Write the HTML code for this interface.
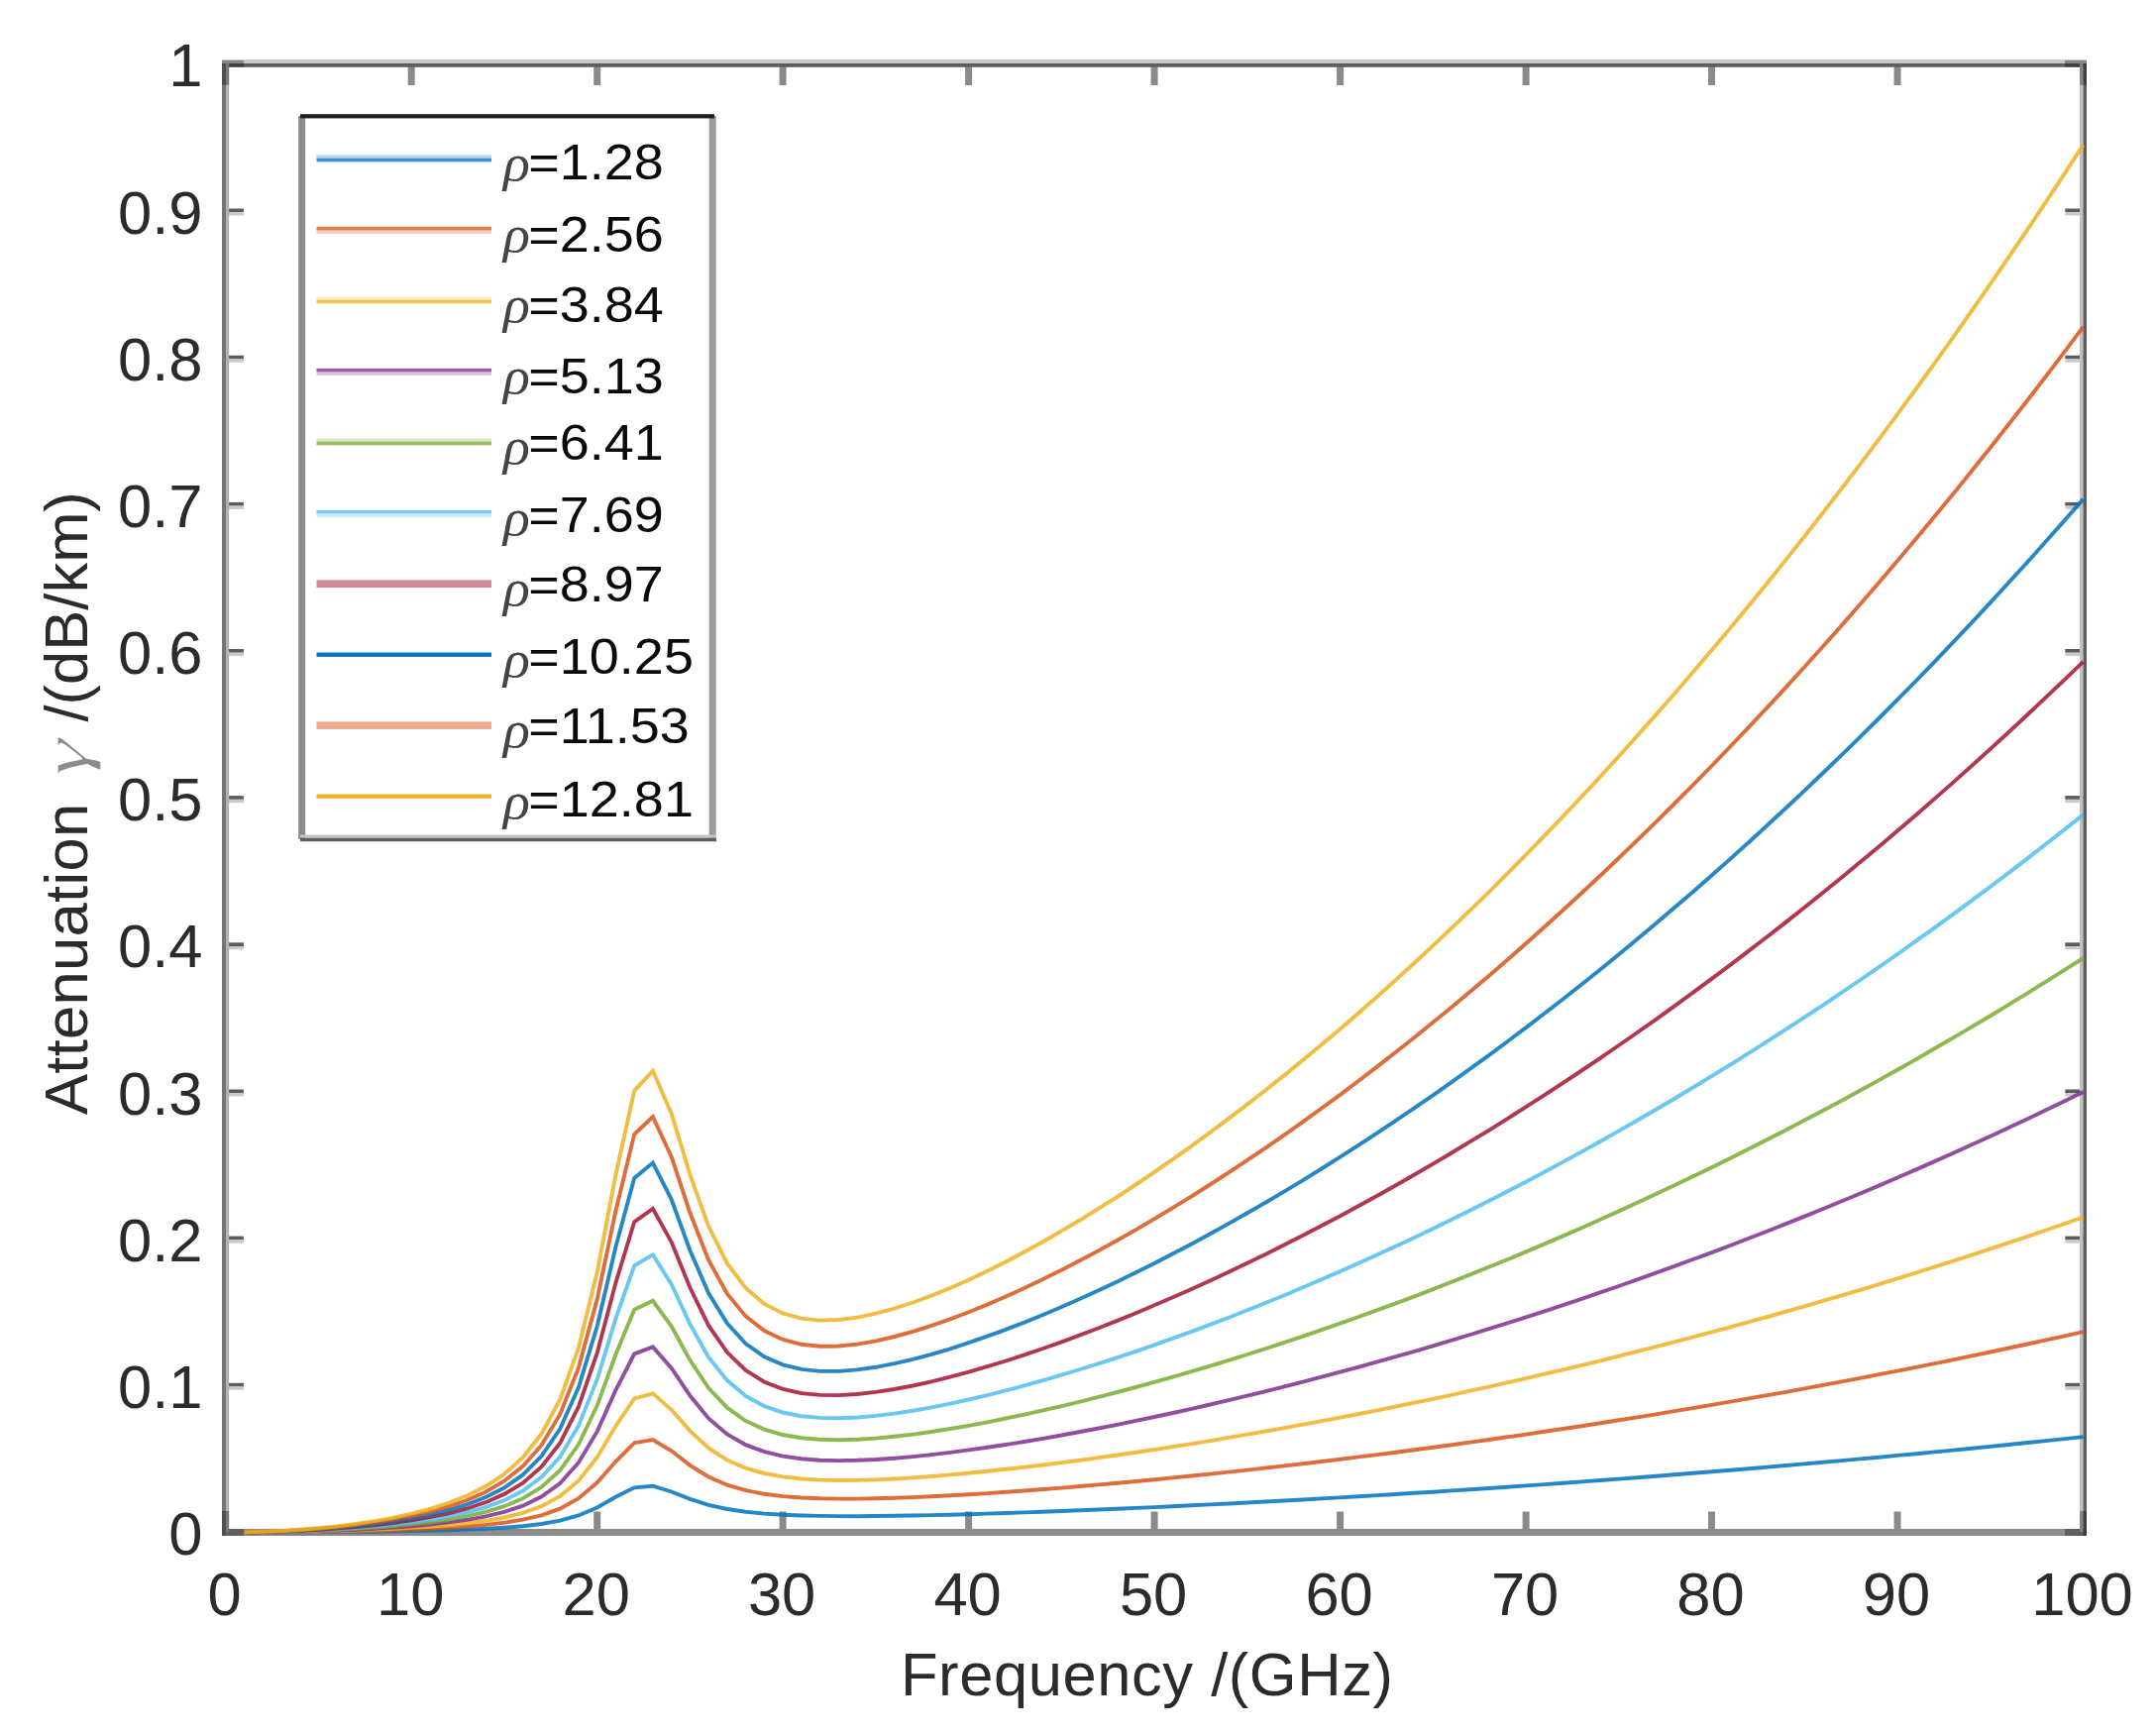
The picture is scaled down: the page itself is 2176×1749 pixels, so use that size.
<!DOCTYPE html>
<html lang="en"><head><meta charset="utf-8"><title>Attenuation vs Frequency</title>
<style>html,body{margin:0;padding:0;background:#fff;}body{width:2176px;height:1749px;overflow:hidden;}svg{display:block;}text{font-family:"Liberation Sans",sans-serif;}.tk{font-size:61.5px;fill:#2b2b2b;}.lb{font-size:61.5px;fill:#2b2b2b;}.lg{font-size:54px;fill:#0a0a0a;}.gr{font-family:"Liberation Serif","DejaVu Serif",serif;font-style:italic;}</style></head><body>
<svg width="2176" height="1749" viewBox="0 0 2176 1749">
<rect x="0" y="0" width="2176" height="1749" fill="#ffffff"/>
<g fill="#8a8a8a">
<rect x="411.7" y="65.0" width="7" height="21.0"/>
<rect x="599.2" y="1525.5" width="7" height="21.0"/>
<rect x="599.2" y="65.0" width="7" height="21.0"/>
<rect x="786.6" y="1525.5" width="7" height="21.0"/>
<rect x="786.6" y="65.0" width="7" height="21.0"/>
<rect x="974.1" y="1525.5" width="7" height="21.0"/>
<rect x="974.1" y="65.0" width="7" height="21.0"/>
<rect x="1161.6" y="1525.5" width="7" height="21.0"/>
<rect x="1161.6" y="65.0" width="7" height="21.0"/>
<rect x="1349.1" y="1525.5" width="7" height="21.0"/>
<rect x="1349.1" y="65.0" width="7" height="21.0"/>
<rect x="1536.6" y="1525.5" width="7" height="21.0"/>
<rect x="1536.6" y="65.0" width="7" height="21.0"/>
<rect x="1724.0" y="1525.5" width="7" height="21.0"/>
<rect x="1724.0" y="65.0" width="7" height="21.0"/>
<rect x="1911.5" y="1525.5" width="7" height="21.0"/>
<rect x="1911.5" y="65.0" width="7" height="21.0"/>
<rect x="227.7" y="1395.8" width="18.2" height="3.7" fill="#5c5c5c"/>
<rect x="227.7" y="1399.4" width="18.2" height="3.3" fill="#cacaca"/>
<rect x="2084.3" y="1395.8" width="18.2" height="3.7" fill="#5c5c5c"/>
<rect x="2084.3" y="1399.4" width="18.2" height="3.3" fill="#cacaca"/>
<rect x="227.7" y="1247.6" width="18.2" height="3.7" fill="#5c5c5c"/>
<rect x="227.7" y="1251.3" width="18.2" height="3.3" fill="#cacaca"/>
<rect x="2084.3" y="1247.6" width="18.2" height="3.7" fill="#5c5c5c"/>
<rect x="2084.3" y="1251.3" width="18.2" height="3.3" fill="#cacaca"/>
<rect x="227.7" y="1099.5" width="18.2" height="3.7" fill="#5c5c5c"/>
<rect x="227.7" y="1103.1" width="18.2" height="3.3" fill="#cacaca"/>
<rect x="2084.3" y="1099.5" width="18.2" height="3.7" fill="#5c5c5c"/>
<rect x="2084.3" y="1103.1" width="18.2" height="3.3" fill="#cacaca"/>
<rect x="227.7" y="951.3" width="18.2" height="3.7" fill="#5c5c5c"/>
<rect x="227.7" y="955.0" width="18.2" height="3.3" fill="#cacaca"/>
<rect x="2084.3" y="951.3" width="18.2" height="3.7" fill="#5c5c5c"/>
<rect x="2084.3" y="955.0" width="18.2" height="3.3" fill="#cacaca"/>
<rect x="227.7" y="803.1" width="18.2" height="3.7" fill="#5c5c5c"/>
<rect x="227.7" y="806.9" width="18.2" height="3.3" fill="#cacaca"/>
<rect x="2084.3" y="803.1" width="18.2" height="3.7" fill="#5c5c5c"/>
<rect x="2084.3" y="806.9" width="18.2" height="3.3" fill="#cacaca"/>
<rect x="227.7" y="655.0" width="18.2" height="3.7" fill="#5c5c5c"/>
<rect x="227.7" y="658.7" width="18.2" height="3.3" fill="#cacaca"/>
<rect x="2084.3" y="655.0" width="18.2" height="3.7" fill="#5c5c5c"/>
<rect x="2084.3" y="658.7" width="18.2" height="3.3" fill="#cacaca"/>
<rect x="227.7" y="506.9" width="18.2" height="3.7" fill="#5c5c5c"/>
<rect x="227.7" y="510.6" width="18.2" height="3.3" fill="#cacaca"/>
<rect x="2084.3" y="506.9" width="18.2" height="3.7" fill="#5c5c5c"/>
<rect x="2084.3" y="510.6" width="18.2" height="3.3" fill="#cacaca"/>
<rect x="227.7" y="358.7" width="18.2" height="3.7" fill="#5c5c5c"/>
<rect x="227.7" y="362.4" width="18.2" height="3.3" fill="#cacaca"/>
<rect x="2084.3" y="358.7" width="18.2" height="3.7" fill="#5c5c5c"/>
<rect x="2084.3" y="362.4" width="18.2" height="3.3" fill="#cacaca"/>
<rect x="227.7" y="210.5" width="18.2" height="3.7" fill="#5c5c5c"/>
<rect x="227.7" y="214.2" width="18.2" height="3.3" fill="#cacaca"/>
<rect x="2084.3" y="210.5" width="18.2" height="3.7" fill="#5c5c5c"/>
<rect x="2084.3" y="214.2" width="18.2" height="3.3" fill="#cacaca"/>
</g>
<g>
<rect x="224" y="60" width="1882" height="4" fill="#c6c6c6"/>
<rect x="224" y="64" width="1882" height="3.8" fill="#5e5e5e"/>
<rect x="224" y="1543" width="1882" height="7" fill="#8c8c8c"/>
<rect x="224" y="64" width="4" height="1486" fill="#757575"/>
<rect x="228" y="64" width="3.2" height="1482" fill="#b2b2b2"/>
<rect x="2099" y="64" width="3.5" height="1482" fill="#c0c0c0"/>
<rect x="2102.5" y="64" width="3.5" height="1486" fill="#5e5e5e"/>
<g fill="#000" fill-opacity="0.32">
<rect x="224" y="61" width="22" height="6.8"/><rect x="224" y="67.8" width="7.2" height="18"/>
<rect x="2084" y="61" width="22" height="6.8"/><rect x="2099" y="67.8" width="7" height="18"/>
<rect x="224" y="1543" width="22" height="7"/><rect x="224" y="1525" width="7.2" height="18"/>
<rect x="2084" y="1543" width="22" height="7"/><rect x="2099" y="1525" width="7" height="18"/>
</g>
</g>
<g fill="none" stroke-width="3.9" stroke-linejoin="miter" stroke-linecap="butt" stroke-opacity="0.85">
<polyline stroke="#0072BD" points="246.4,1546.5 265.2,1546.5 283.9,1546.4 302.7,1546.3 321.4,1546.2 340.2,1546.1 358.9,1545.9 377.7,1545.7 396.4,1545.4 415.2,1545.1 433.9,1544.7 452.7,1544.2 471.4,1543.6 490.2,1542.8 508.9,1541.7 527.7,1540.2 546.4,1538.0 565.2,1534.7 583.9,1529.5 602.7,1521.5 621.4,1510.8 640.2,1501.3 658.9,1499.7 677.7,1505.5 696.4,1512.9 715.1,1518.9 733.9,1523.0 752.6,1525.8 771.4,1527.6 790.1,1528.8 808.9,1529.5 827.6,1529.9 846.4,1530.1 865.1,1530.2 883.9,1530.0 902.6,1529.8 921.4,1529.5 940.1,1529.1 958.9,1528.7 977.6,1528.2 996.4,1527.6 1015.1,1527.0 1033.9,1526.4 1052.6,1525.7 1071.4,1525.0 1090.1,1524.3 1108.9,1523.5 1127.6,1522.7 1146.4,1521.9 1165.1,1521.1 1183.8,1520.2 1202.6,1519.3 1221.3,1518.4 1240.1,1517.5 1258.8,1516.5 1277.6,1515.5 1296.3,1514.5 1315.1,1513.5 1333.8,1512.4 1352.6,1511.4 1371.3,1510.3 1390.1,1509.1 1408.8,1508.0 1427.6,1506.8 1446.3,1505.7 1465.1,1504.4 1483.8,1503.2 1502.6,1502.0 1521.3,1500.7 1540.1,1499.4 1558.8,1498.1 1577.6,1496.8 1596.3,1495.4 1615.1,1494.0 1633.8,1492.6 1652.5,1491.2 1671.3,1489.8 1690.0,1488.3 1708.8,1486.8 1727.5,1485.3 1746.3,1483.8 1765.0,1482.2 1783.8,1480.6 1802.5,1479.0 1821.3,1477.4 1840.0,1475.8 1858.8,1474.1 1877.5,1472.4 1896.3,1470.7 1915.0,1468.9 1933.8,1467.2 1952.5,1465.4 1971.3,1463.6 1990.0,1461.7 2008.8,1459.9 2027.5,1458.0 2046.3,1456.0 2065.0,1454.1 2083.8,1452.1 2102.5,1450.1"/>
<polyline stroke="#D95319" points="246.4,1546.5 265.2,1546.4 283.9,1546.3 302.7,1546.1 321.4,1545.9 340.2,1545.6 358.9,1545.2 377.7,1544.8 396.4,1544.2 415.2,1543.6 433.9,1542.8 452.7,1541.8 471.4,1540.5 490.2,1538.9 508.9,1536.7 527.7,1533.7 546.4,1529.3 565.2,1522.6 583.9,1512.2 602.7,1496.3 621.4,1475.0 640.2,1456.2 658.9,1453.0 677.7,1464.3 696.4,1478.8 715.1,1490.5 733.9,1498.7 752.6,1504.2 771.4,1507.8 790.1,1510.1 808.9,1511.5 827.6,1512.3 846.4,1512.6 865.1,1512.6 883.9,1512.3 902.6,1511.8 921.4,1511.1 940.1,1510.3 958.9,1509.3 977.6,1508.2 996.4,1507.1 1015.1,1505.8 1033.9,1504.5 1052.6,1503.0 1071.4,1501.6 1090.1,1500.0 1108.9,1498.4 1127.6,1496.7 1146.4,1495.0 1165.1,1493.2 1183.8,1491.4 1202.6,1489.5 1221.3,1487.6 1240.1,1485.6 1258.8,1483.6 1277.6,1481.5 1296.3,1479.4 1315.1,1477.2 1333.8,1475.0 1352.6,1472.7 1371.3,1470.4 1390.1,1468.1 1408.8,1465.7 1427.6,1463.2 1446.3,1460.7 1465.1,1458.2 1483.8,1455.6 1502.6,1453.0 1521.3,1450.3 1540.1,1447.6 1558.8,1444.8 1577.6,1442.0 1596.3,1439.2 1615.1,1436.3 1633.8,1433.3 1652.5,1430.4 1671.3,1427.3 1690.0,1424.2 1708.8,1421.1 1727.5,1417.9 1746.3,1414.7 1765.0,1411.4 1783.8,1408.1 1802.5,1404.8 1821.3,1401.3 1840.0,1397.9 1858.8,1394.4 1877.5,1390.8 1896.3,1387.2 1915.0,1383.6 1933.8,1379.8 1952.5,1376.1 1971.3,1372.3 1990.0,1368.4 2008.8,1364.5 2027.5,1360.5 2046.3,1356.5 2065.0,1352.4 2083.8,1348.3 2102.5,1344.1"/>
<polyline stroke="#EDB120" points="246.4,1546.5 265.2,1546.3 283.9,1546.1 302.7,1545.9 321.4,1545.5 340.2,1545.0 358.9,1544.5 377.7,1543.8 396.4,1543.0 415.2,1541.9 433.9,1540.7 452.7,1539.2 471.4,1537.3 490.2,1534.8 508.9,1531.5 527.7,1526.8 546.4,1520.1 565.2,1510.1 583.9,1494.4 602.7,1470.7 621.4,1439.2 640.2,1411.4 658.9,1406.3 677.7,1422.8 696.4,1444.1 715.1,1461.4 733.9,1473.6 752.6,1481.7 771.4,1487.0 790.1,1490.4 808.9,1492.5 827.6,1493.6 846.4,1494.0 865.1,1493.9 883.9,1493.4 902.6,1492.5 921.4,1491.4 940.1,1490.0 958.9,1488.4 977.6,1486.7 996.4,1484.8 1015.1,1482.8 1033.9,1480.7 1052.6,1478.5 1071.4,1476.1 1090.1,1473.7 1108.9,1471.1 1127.6,1468.5 1146.4,1465.8 1165.1,1463.0 1183.8,1460.1 1202.6,1457.1 1221.3,1454.1 1240.1,1450.9 1258.8,1447.7 1277.6,1444.5 1296.3,1441.1 1315.1,1437.7 1333.8,1434.2 1352.6,1430.6 1371.3,1427.0 1390.1,1423.3 1408.8,1419.5 1427.6,1415.7 1446.3,1411.8 1465.1,1407.8 1483.8,1403.7 1502.6,1399.6 1521.3,1395.4 1540.1,1391.1 1558.8,1386.7 1577.6,1382.3 1596.3,1377.8 1615.1,1373.3 1633.8,1368.6 1652.5,1363.9 1671.3,1359.2 1690.0,1354.3 1708.8,1349.4 1727.5,1344.4 1746.3,1339.3 1765.0,1334.2 1783.8,1329.0 1802.5,1323.7 1821.3,1318.3 1840.0,1312.9 1858.8,1307.4 1877.5,1301.8 1896.3,1296.1 1915.0,1290.4 1933.8,1284.5 1952.5,1278.6 1971.3,1272.6 1990.0,1266.6 2008.8,1260.4 2027.5,1254.2 2046.3,1247.9 2065.0,1241.5 2083.8,1235.0 2102.5,1228.4"/>
<polyline stroke="#7E2F8E" points="246.4,1546.4 265.2,1546.3 283.9,1546.0 302.7,1545.6 321.4,1545.1 340.2,1544.5 358.9,1543.7 377.7,1542.7 396.4,1541.6 415.2,1540.2 433.9,1538.5 452.7,1536.4 471.4,1533.8 490.2,1530.4 508.9,1525.9 527.7,1519.7 546.4,1510.6 565.2,1497.1 583.9,1476.2 602.7,1444.7 621.4,1403.0 640.2,1366.3 658.9,1359.4 677.7,1380.6 696.4,1408.6 715.1,1431.4 733.9,1447.4 752.6,1458.2 771.4,1465.2 790.1,1469.6 808.9,1472.3 827.6,1473.7 846.4,1474.1 865.1,1473.8 883.9,1473.0 902.6,1471.7 921.4,1470.1 940.1,1468.1 958.9,1465.9 977.6,1463.4 996.4,1460.8 1015.1,1458.0 1033.9,1455.0 1052.6,1451.8 1071.4,1448.5 1090.1,1445.0 1108.9,1441.5 1127.6,1437.8 1146.4,1433.9 1165.1,1430.0 1183.8,1426.0 1202.6,1421.8 1221.3,1417.5 1240.1,1413.2 1258.8,1408.7 1277.6,1404.1 1296.3,1399.4 1315.1,1394.6 1333.8,1389.7 1352.6,1384.7 1371.3,1379.6 1390.1,1374.4 1408.8,1369.1 1427.6,1363.8 1446.3,1358.3 1465.1,1352.7 1483.8,1347.0 1502.6,1341.2 1521.3,1335.3 1540.1,1329.4 1558.8,1323.3 1577.6,1317.1 1596.3,1310.8 1615.1,1304.4 1633.8,1298.0 1652.5,1291.4 1671.3,1284.7 1690.0,1277.9 1708.8,1271.0 1727.5,1264.1 1746.3,1257.0 1765.0,1249.8 1783.8,1242.5 1802.5,1235.1 1821.3,1227.6 1840.0,1220.0 1858.8,1212.3 1877.5,1204.5 1896.3,1196.6 1915.0,1188.5 1933.8,1180.4 1952.5,1172.1 1971.3,1163.8 1990.0,1155.3 2008.8,1146.7 2027.5,1138.0 2046.3,1129.2 2065.0,1120.3 2083.8,1111.2 2102.5,1102.1"/>
<polyline stroke="#77AC30" points="246.4,1546.4 265.2,1546.2 283.9,1545.9 302.7,1545.4 321.4,1544.7 340.2,1543.9 358.9,1542.9 377.7,1541.6 396.4,1540.2 415.2,1538.4 433.9,1536.2 452.7,1533.6 471.4,1530.2 490.2,1525.9 508.9,1520.2 527.7,1512.3 546.4,1500.9 565.2,1483.9 583.9,1457.8 602.7,1418.6 621.4,1367.0 640.2,1321.8 658.9,1312.8 677.7,1338.5 696.4,1372.8 715.1,1400.9 733.9,1420.7 752.6,1434.0 771.4,1442.6 790.1,1448.0 808.9,1451.2 827.6,1452.8 846.4,1453.2 865.1,1452.8 883.9,1451.6 902.6,1449.8 921.4,1447.6 940.1,1445.0 958.9,1442.0 977.6,1438.8 996.4,1435.3 1015.1,1431.5 1033.9,1427.6 1052.6,1423.4 1071.4,1419.1 1090.1,1414.6 1108.9,1409.9 1127.6,1405.0 1146.4,1400.0 1165.1,1394.9 1183.8,1389.6 1202.6,1384.1 1221.3,1378.6 1240.1,1372.8 1258.8,1367.0 1277.6,1361.0 1296.3,1354.8 1315.1,1348.6 1333.8,1342.2 1352.6,1335.7 1371.3,1329.0 1390.1,1322.2 1408.8,1315.3 1427.6,1308.3 1446.3,1301.1 1465.1,1293.8 1483.8,1286.4 1502.6,1278.8 1521.3,1271.2 1540.1,1263.4 1558.8,1255.4 1577.6,1247.4 1596.3,1239.2 1615.1,1230.8 1633.8,1222.4 1652.5,1213.8 1671.3,1205.1 1690.0,1196.3 1708.8,1187.3 1727.5,1178.2 1746.3,1168.9 1765.0,1159.6 1783.8,1150.0 1802.5,1140.4 1821.3,1130.6 1840.0,1120.7 1858.8,1110.7 1877.5,1100.5 1896.3,1090.1 1915.0,1079.7 1933.8,1069.1 1952.5,1058.3 1971.3,1047.4 1990.0,1036.4 2008.8,1025.2 2027.5,1013.8 2046.3,1002.3 2065.0,990.7 2083.8,978.9 2102.5,967.0"/>
<polyline stroke="#4DBEEE" points="246.4,1546.4 265.2,1546.2 283.9,1545.7 302.7,1545.1 321.4,1544.3 340.2,1543.3 358.9,1542.0 377.7,1540.5 396.4,1538.7 415.2,1536.5 433.9,1533.8 452.7,1530.5 471.4,1526.4 490.2,1521.2 508.9,1514.2 527.7,1504.6 546.4,1490.8 565.2,1470.3 583.9,1439.0 602.7,1392.2 621.4,1330.9 640.2,1277.4 658.9,1266.3 677.7,1296.2 696.4,1336.4 715.1,1369.6 733.9,1393.1 752.6,1408.9 771.4,1419.1 790.1,1425.5 808.9,1429.2 827.6,1430.9 846.4,1431.2 865.1,1430.5 883.9,1428.9 902.6,1426.6 921.4,1423.7 940.1,1420.4 958.9,1416.6 977.6,1412.5 996.4,1408.1 1015.1,1403.4 1033.9,1398.4 1052.6,1393.2 1071.4,1387.7 1090.1,1382.0 1108.9,1376.1 1127.6,1370.1 1146.4,1363.8 1165.1,1357.3 1183.8,1350.7 1202.6,1343.9 1221.3,1336.9 1240.1,1329.7 1258.8,1322.3 1277.6,1314.8 1296.3,1307.2 1315.1,1299.3 1333.8,1291.3 1352.6,1283.1 1371.3,1274.8 1390.1,1266.3 1408.8,1257.7 1427.6,1248.9 1446.3,1239.9 1465.1,1230.8 1483.8,1221.5 1502.6,1212.0 1521.3,1202.4 1540.1,1192.7 1558.8,1182.7 1577.6,1172.6 1596.3,1162.4 1615.1,1152.0 1633.8,1141.4 1652.5,1130.7 1671.3,1119.8 1690.0,1108.7 1708.8,1097.5 1727.5,1086.1 1746.3,1074.6 1765.0,1062.8 1783.8,1050.9 1802.5,1038.9 1821.3,1026.7 1840.0,1014.3 1858.8,1001.7 1877.5,989.0 1896.3,976.1 1915.0,963.0 1933.8,949.7 1952.5,936.3 1971.3,922.7 1990.0,908.9 2008.8,894.9 2027.5,880.7 2046.3,866.4 2065.0,851.8 2083.8,837.1 2102.5,822.2"/>
<polyline stroke="#A2142F" points="246.4,1546.4 265.2,1546.1 283.9,1545.6 302.7,1544.8 321.4,1543.8 340.2,1542.6 358.9,1541.1 377.7,1539.3 396.4,1537.1 415.2,1534.4 433.9,1531.2 452.7,1527.3 471.4,1522.5 490.2,1516.2 508.9,1507.9 527.7,1496.6 546.4,1480.4 565.2,1456.4 583.9,1419.8 602.7,1365.5 621.4,1294.8 640.2,1233.1 658.9,1219.9 677.7,1253.5 696.4,1299.5 715.1,1337.7 733.9,1364.8 752.6,1382.9 771.4,1394.7 790.1,1401.9 808.9,1406.1 827.6,1407.9 846.4,1408.1 865.1,1407.0 883.9,1404.9 902.6,1402.0 921.4,1398.5 940.1,1394.3 958.9,1389.7 977.6,1384.7 996.4,1379.2 1015.1,1373.5 1033.9,1367.4 1052.6,1361.0 1071.4,1354.4 1090.1,1347.4 1108.9,1340.3 1127.6,1332.9 1146.4,1325.2 1165.1,1317.3 1183.8,1309.3 1202.6,1301.0 1221.3,1292.4 1240.1,1283.7 1258.8,1274.8 1277.6,1265.7 1296.3,1256.3 1315.1,1246.8 1333.8,1237.1 1352.6,1227.2 1371.3,1217.0 1390.1,1206.7 1408.8,1196.2 1427.6,1185.5 1446.3,1174.6 1465.1,1163.5 1483.8,1152.2 1502.6,1140.8 1521.3,1129.1 1540.1,1117.2 1558.8,1105.2 1577.6,1092.9 1596.3,1080.5 1615.1,1067.8 1633.8,1055.0 1652.5,1042.0 1671.3,1028.8 1690.0,1015.3 1708.8,1001.7 1727.5,987.9 1746.3,973.9 1765.0,959.6 1783.8,945.2 1802.5,930.6 1821.3,915.8 1840.0,900.7 1858.8,885.5 1877.5,870.0 1896.3,854.4 1915.0,838.5 1933.8,822.4 1952.5,806.1 1971.3,789.6 1990.0,772.9 2008.8,755.9 2027.5,738.7 2046.3,721.3 2065.0,703.7 2083.8,685.8 2102.5,667.8"/>
<polyline stroke="#0072BD" points="246.4,1546.4 265.2,1546.0 283.9,1545.4 302.7,1544.5 321.4,1543.3 340.2,1541.9 358.9,1540.1 377.7,1538.0 396.4,1535.4 415.2,1532.3 433.9,1528.6 452.7,1524.0 471.4,1518.3 490.2,1511.0 508.9,1501.5 527.7,1488.4 546.4,1469.7 565.2,1442.1 583.9,1400.4 602.7,1338.5 621.4,1258.6 640.2,1188.9 658.9,1173.5 677.7,1210.6 696.4,1262.0 715.1,1305.0 733.9,1335.6 752.6,1356.1 771.4,1369.3 790.1,1377.4 808.9,1381.9 827.6,1383.9 846.4,1383.9 865.1,1382.4 883.9,1379.8 902.6,1376.2 921.4,1371.8 940.1,1366.9 958.9,1361.3 977.6,1355.2 996.4,1348.7 1015.1,1341.8 1033.9,1334.6 1052.6,1327.0 1071.4,1319.0 1090.1,1310.8 1108.9,1302.2 1127.6,1293.4 1146.4,1284.3 1165.1,1274.9 1183.8,1265.3 1202.6,1255.4 1221.3,1245.3 1240.1,1234.9 1258.8,1224.3 1277.6,1213.5 1296.3,1202.4 1315.1,1191.1 1333.8,1179.5 1352.6,1167.7 1371.3,1155.7 1390.1,1143.4 1408.8,1130.9 1427.6,1118.2 1446.3,1105.3 1465.1,1092.1 1483.8,1078.7 1502.6,1065.1 1521.3,1051.2 1540.1,1037.1 1558.8,1022.8 1577.6,1008.2 1596.3,993.5 1615.1,978.4 1633.8,963.2 1652.5,947.7 1671.3,932.0 1690.0,916.1 1708.8,899.9 1727.5,883.5 1746.3,866.9 1765.0,850.0 1783.8,832.8 1802.5,815.5 1821.3,797.9 1840.0,780.0 1858.8,761.9 1877.5,743.6 1896.3,725.0 1915.0,706.2 1933.8,687.1 1952.5,667.8 1971.3,648.2 1990.0,628.3 2008.8,608.2 2027.5,587.8 2046.3,567.2 2065.0,546.3 2083.8,525.1 2102.5,503.7"/>
<polyline stroke="#D95319" points="246.4,1546.4 265.2,1545.9 283.9,1545.2 302.7,1544.2 321.4,1542.8 340.2,1541.2 358.9,1539.1 377.7,1536.6 396.4,1533.6 415.2,1530.1 433.9,1525.8 452.7,1520.5 471.4,1514.0 490.2,1505.7 508.9,1494.7 527.7,1479.8 546.4,1458.7 565.2,1427.5 583.9,1380.5 602.7,1311.3 621.4,1222.2 640.2,1144.8 658.9,1127.1 677.7,1167.4 696.4,1224.0 715.1,1271.7 733.9,1305.7 752.6,1328.4 771.4,1343.1 790.1,1352.0 808.9,1356.8 827.6,1358.7 846.4,1358.5 865.1,1356.6 883.9,1353.3 902.6,1349.0 921.4,1343.9 940.1,1337.9 958.9,1331.4 977.6,1324.2 996.4,1316.6 1015.1,1308.5 1033.9,1300.0 1052.6,1291.0 1071.4,1281.7 1090.1,1272.1 1108.9,1262.1 1127.6,1251.7 1146.4,1241.1 1165.1,1230.1 1183.8,1218.9 1202.6,1207.3 1221.3,1195.5 1240.1,1183.3 1258.8,1170.9 1277.6,1158.3 1296.3,1145.3 1315.1,1132.1 1333.8,1118.5 1352.6,1104.8 1371.3,1090.7 1390.1,1076.4 1408.8,1061.8 1427.6,1047.0 1446.3,1031.8 1465.1,1016.5 1483.8,1000.8 1502.6,984.9 1521.3,968.7 1540.1,952.3 1558.8,935.5 1577.6,918.5 1596.3,901.3 1615.1,883.8 1633.8,866.0 1652.5,847.9 1671.3,829.6 1690.0,811.0 1708.8,792.1 1727.5,773.0 1746.3,753.5 1765.0,733.8 1783.8,713.8 1802.5,693.6 1821.3,673.0 1840.0,652.2 1858.8,631.1 1877.5,609.7 1896.3,588.0 1915.0,566.1 1933.8,543.8 1952.5,521.2 1971.3,498.4 1990.0,475.2 2008.8,451.8 2027.5,428.0 2046.3,404.0 2065.0,379.6 2083.8,354.9 2102.5,329.9"/>
<polyline stroke="#EDB120" points="246.4,1546.3 265.2,1545.8 283.9,1545.0 302.7,1543.8 321.4,1542.3 340.2,1540.4 358.9,1538.0 377.7,1535.2 396.4,1531.8 415.2,1527.7 433.9,1522.8 452.7,1516.9 471.4,1509.5 490.2,1500.1 508.9,1487.8 527.7,1471.0 546.4,1447.3 565.2,1412.5 583.9,1360.3 602.7,1283.8 621.4,1185.8 640.2,1100.8 658.9,1080.7 677.7,1123.9 696.4,1185.5 715.1,1237.6 733.9,1275.0 752.6,1299.9 771.4,1315.9 790.1,1325.5 808.9,1330.7 827.6,1332.6 846.4,1332.0 865.1,1329.6 883.9,1325.7 902.6,1320.6 921.4,1314.5 940.1,1307.6 958.9,1300.0 977.6,1291.7 996.4,1282.8 1015.1,1273.4 1033.9,1263.5 1052.6,1253.2 1071.4,1242.4 1090.1,1231.3 1108.9,1219.7 1127.6,1207.8 1146.4,1195.5 1165.1,1182.9 1183.8,1169.9 1202.6,1156.6 1221.3,1142.9 1240.1,1128.9 1258.8,1114.6 1277.6,1100.0 1296.3,1085.1 1315.1,1069.8 1333.8,1054.2 1352.6,1038.4 1371.3,1022.2 1390.1,1005.7 1408.8,988.9 1427.6,971.8 1446.3,954.4 1465.1,936.6 1483.8,918.6 1502.6,900.3 1521.3,881.6 1540.1,862.7 1558.8,843.4 1577.6,823.9 1596.3,804.0 1615.1,783.8 1633.8,763.3 1652.5,742.5 1671.3,721.4 1690.0,700.0 1708.8,678.3 1727.5,656.2 1746.3,633.9 1765.0,611.2 1783.8,588.2 1802.5,564.9 1821.3,541.2 1840.0,517.3 1858.8,493.0 1877.5,468.4 1896.3,443.4 1915.0,418.1 1933.8,392.5 1952.5,366.6 1971.3,340.3 1990.0,313.6 2008.8,286.7 2027.5,259.3 2046.3,231.6 2065.0,203.6 2083.8,175.2 2102.5,146.4"/>
</g>
<g class="tk">
<text x="226.7" y="1630.2" text-anchor="middle">0</text>
<text x="414.2" y="1630.2" text-anchor="middle">10</text>
<text x="601.7" y="1630.2" text-anchor="middle">20</text>
<text x="789.1" y="1630.2" text-anchor="middle">30</text>
<text x="976.6" y="1630.2" text-anchor="middle">40</text>
<text x="1164.1" y="1630.2" text-anchor="middle">50</text>
<text x="1351.6" y="1630.2" text-anchor="middle">60</text>
<text x="1539.1" y="1630.2" text-anchor="middle">70</text>
<text x="1726.5" y="1630.2" text-anchor="middle">80</text>
<text x="1914.0" y="1630.2" text-anchor="middle">90</text>
<text x="2101.5" y="1630.2" text-anchor="middle">100</text>
<text x="204.5" y="1568.9" text-anchor="end">0</text>
<text x="204.5" y="1420.8" text-anchor="end">0.1</text>
<text x="204.5" y="1272.6" text-anchor="end">0.2</text>
<text x="204.5" y="1124.5" text-anchor="end">0.3</text>
<text x="204.5" y="976.3" text-anchor="end">0.4</text>
<text x="204.5" y="828.1" text-anchor="end">0.5</text>
<text x="204.5" y="680.0" text-anchor="end">0.6</text>
<text x="204.5" y="531.9" text-anchor="end">0.7</text>
<text x="204.5" y="383.7" text-anchor="end">0.8</text>
<text x="204.5" y="235.5" text-anchor="end">0.9</text>
<text x="204.5" y="87.4" text-anchor="end">1</text>
</g>
<text class="lb" x="909" y="1711.3" letter-spacing="0.55">Frequency /(GHz)</text>
<g transform="translate(88,0) rotate(-90)">
<text class="lb" x="-1125" y="0" letter-spacing="0.3">Attenuation</text>
<text class="gr" transform="translate(-783.5,0) scale(1.45,1)" x="0" y="0" font-size="66" style="fill:#8c8c8c;stroke:#fff;stroke-width:1.2px">γ</text>
<text class="lb" x="-728.5" y="0">/(dB/km)</text>
</g>
<g>
<rect x="304.7" y="117" width="414.5" height="729" fill="#ffffff"/>
<rect x="301.2" y="117" width="7" height="730" fill="#8c8c8c"/>
<rect x="715.7" y="117" width="7" height="730" fill="#9a9a9a"/>
<rect x="303" y="115.2" width="418" height="4.2" fill="#1e1e1e"/>
<rect x="303" y="842.5" width="420" height="3.2" fill="#c4c4c4"/>
<rect x="303" y="845.7" width="420" height="3.5" fill="#5e5e5e"/>
<rect x="319.5" y="156.3" width="176.5" height="3.5" fill="#0072BD" fill-opacity="0.28"/>
<rect x="319.5" y="159.7" width="176.5" height="3.6" fill="#0072BD" fill-opacity="0.78"/>
<g transform="translate(0,180.9) scale(1,0.93)"><text class="lg" x="508" y="0"><tspan class="gr" font-size="56" fill="#444" dy="1.34">ρ</tspan><tspan x="533.3" dy="-1.34">=1.28</tspan></text></g>
<rect x="319.5" y="228.8" width="176.5" height="3.6" fill="#D95319" fill-opacity="0.78"/>
<rect x="319.5" y="232.4" width="176.5" height="3.5" fill="#D95319" fill-opacity="0.28"/>
<g transform="translate(0,254.4) scale(1,0.93)"><text class="lg" x="508" y="0"><tspan class="gr" font-size="56" fill="#444" dy="-0.81">ρ</tspan><tspan x="533.3" dy="0.81">=2.56</tspan></text></g>
<rect x="319.5" y="299.3" width="176.5" height="3.5" fill="#EDB120" fill-opacity="0.28"/>
<rect x="319.5" y="302.7" width="176.5" height="3.6" fill="#EDB120" fill-opacity="0.78"/>
<g transform="translate(0,324.6) scale(1,0.93)"><text class="lg" x="508" y="0"><tspan class="gr" font-size="56" fill="#444" dy="0.59">ρ</tspan><tspan x="533.3" dy="-0.59">=3.84</tspan></text></g>
<rect x="319.5" y="371.8" width="176.5" height="3.6" fill="#7E2F8E" fill-opacity="0.78"/>
<rect x="319.5" y="375.4" width="176.5" height="3.5" fill="#7E2F8E" fill-opacity="0.28"/>
<g transform="translate(0,397.4) scale(1,0.93)"><text class="lg" x="508" y="0"><tspan class="gr" font-size="56" fill="#444" dy="-0.81">ρ</tspan><tspan x="533.3" dy="0.81">=5.13</tspan></text></g>
<rect x="319.5" y="442.3" width="176.5" height="3.5" fill="#77AC30" fill-opacity="0.28"/>
<rect x="319.5" y="445.7" width="176.5" height="3.6" fill="#77AC30" fill-opacity="0.78"/>
<g transform="translate(0,463.8) scale(1,0.93)"><text class="lg" x="508" y="0"><tspan class="gr" font-size="56" fill="#444" dy="4.68">ρ</tspan><tspan x="533.3" dy="-4.68">=6.41</tspan></text></g>
<rect x="319.5" y="514.8" width="176.5" height="3.6" fill="#4DBEEE" fill-opacity="0.78"/>
<rect x="319.5" y="518.4" width="176.5" height="3.5" fill="#4DBEEE" fill-opacity="0.28"/>
<g transform="translate(0,537.0) scale(1,0.93)"><text class="lg" x="508" y="0"><tspan class="gr" font-size="56" fill="#444" dy="2.85">ρ</tspan><tspan x="533.3" dy="-2.85">=7.69</tspan></text></g>
<rect x="319.5" y="585.4" width="176.5" height="7.6" fill="#A2142F" fill-opacity="0.5"/>
<g transform="translate(0,606.5) scale(1,0.93)"><text class="lg" x="508" y="0"><tspan class="gr" font-size="56" fill="#444" dy="5.00">ρ</tspan><tspan x="533.3" dy="-5.00">=8.97</tspan></text></g>
<rect x="319.5" y="658.5" width="176.5" height="4.4" fill="#0072BD" fill-opacity="0.97"/>
<g transform="translate(0,680.0) scale(1,0.93)"><text class="lg" x="508" y="0"><tspan class="gr" font-size="56" fill="#444" dy="2.85">ρ</tspan><tspan x="533.3" dy="-2.85">=10.25</tspan></text></g>
<rect x="319.5" y="728.4" width="176.5" height="7.6" fill="#D95319" fill-opacity="0.5"/>
<g transform="translate(0,750.1) scale(1,0.93)"><text class="lg" x="508" y="0"><tspan class="gr" font-size="56" fill="#444" dy="4.35">ρ</tspan><tspan x="533.3" dy="-4.35">=11.53</tspan></text></g>
<rect x="319.5" y="801.5" width="176.5" height="4.4" fill="#EDB120" fill-opacity="0.97"/>
<g transform="translate(0,823.6) scale(1,0.93)"><text class="lg" x="508" y="0"><tspan class="gr" font-size="56" fill="#444" dy="2.20">ρ</tspan><tspan x="533.3" dy="-2.20">=12.81</tspan></text></g>
</g>
</svg>
</body></html>
